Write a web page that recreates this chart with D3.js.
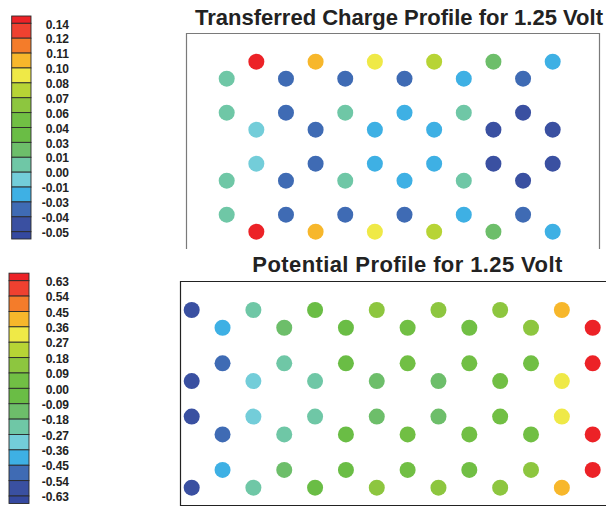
<!DOCTYPE html>
<html>
<head>
<meta charset="utf-8">
<script src="https://cdn.jsdelivr.net/npm/d3@7"></script>
<style>
  html, body { margin: 0; padding: 0; background: #fff; }
  text { font-family: "Liberation Sans", Arial, Helvetica, sans-serif; font-weight: bold; fill: #222; }
</style>
</head>
<body>
<div id="chart"></div>
<script>
// colormap, highest bin first
const binColors = ['#ec2227', '#ef4130', '#f47c2a', '#f7b72b', '#efe947', '#b7d435', '#8dc63f', '#71bf44',
                   '#6abd45', '#6dbe6a', '#6fc7a6', '#73cdd9', '#3eb0e4', '#3f6bb4', '#3a50a1', '#3549a0'];

// colorbar tick labels (top to bottom)
const chargeTicks = [0.14, 0.12, 0.11, 0.10, 0.08, 0.07, 0.06, 0.04, 0.03, 0.01, 0.00, -0.01, -0.03, -0.04, -0.05];
const potentialTicks = [0.63, 0.54, 0.45, 0.36, 0.27, 0.18, 0.09, 0.00, -0.09, -0.18, -0.27, -0.36, -0.45, -0.54, -0.63];

// lattice rows: y position (bond lengths) and first column of each row
const chargeRowY = [0, 0.5, 1.5, 2, 3, 3.5, 4.5, 5];
const chargeRowStart = [1, 0, 0, 1, 1, 0, 0, 1];
const chargeValues = [
  [0.145, 0.105, 0.092, 0.075, 0.021, -0.019],
  [0.005, -0.035, -0.034, -0.036, -0.018, -0.035],
  [0.004, -0.036, 0.006, -0.021, 0.004, -0.046],
  [-0.004, -0.035, -0.019, -0.020, -0.045, -0.047],
  [-0.004, -0.035, -0.019, -0.020, -0.045, -0.047],
  [0.004, -0.036, 0.006, -0.021, 0.004, -0.046],
  [0.005, -0.035, -0.034, -0.036, -0.018, -0.035],
  [0.145, 0.105, 0.092, 0.075, 0.021, -0.019]
];

const potentialRowY = [0, 0.5, 1.5, 2, 3, 3.5, 4.5, 5];
const potentialRowStart = [0, 1, 1, 0, 0, 1, 1, 0];
const potentialValues = [
  [-0.60, -0.22, -0.03, 0.13, 0.14, 0.13, 0.40],
  [-0.40, -0.13, -0.04, 0.03, 0.04, 0.12, 0.65],
  [-0.50, -0.22, -0.05, 0.02, 0.05, 0.07, 0.65],
  [-0.60, -0.31, -0.21, -0.12, -0.11, 0.05, 0.30],
  [-0.60, -0.31, -0.21, -0.12, -0.11, 0.05, 0.30],
  [-0.50, -0.22, -0.05, 0.02, 0.05, 0.07, 0.65],
  [-0.40, -0.13, -0.04, 0.03, 0.04, 0.12, 0.65],
  [-0.60, -0.22, -0.03, 0.13, 0.14, 0.13, 0.40]
];

const W = 606, H = 507;
const svg = d3.select('#chart').append('svg').attr('width', W).attr('height', H);

function atoms(rowY, rowStart, values) {
  const out = [];
  values.forEach((row, r) => row.forEach((v, i) => out.push({ col: rowStart[r] + 2 * i, y: rowY[r], v })));
  return out;
}

function colorbar(ticks, x0, x1, yFirst, yLast) {
  const y = d3.scaleLinear().domain([0, ticks.length - 1]).range([yFirst, yLast]);
  const g = svg.append('g');
  const n = ticks.length;
  g.selectAll('rect.bin')
    .data(binColors)
    .join('rect')
    .attr('class', 'bin')
    .attr('x', x0)
    .attr('width', x1 - x0)
    .attr('y', (d, j) => y(Math.max(-0.49, j - 1)))
    .attr('height', (d, j) => y(Math.min(n - 0.51, j)) - y(Math.max(-0.49, j - 1)))
    .attr('fill', d => d)
    .attr('stroke', '#2a2a2a')
    .attr('stroke-width', 0.9);
  g.selectAll('text')
    .data(ticks)
    .join('text')
    .attr('x', 69)
    .attr('y', (d, i) => y(i) + 1)
    .attr('dy', '0.35em')
    .attr('text-anchor', 'end')
    .attr('font-size', '12px')
    .text(d => d.toFixed(2));
}

function colorScale(ticks) {
  const asc = ticks.slice().reverse();
  return d3.scaleThreshold().domain(asc).range(binColors.slice().reverse());
}

// ---- Transferred charge (top)
colorbar(chargeTicks, 11.7, 31, 23.3, 231.7);

svg.append('path')
  .attr('d', 'M186.5,249V33.5H599.5V249')
  .attr('fill', 'none')
  .attr('stroke', '#7a7a7a')
  .attr('stroke-width', 1.2);

svg.append('text')
  .attr('x', 399).attr('y', 25)
  .attr('text-anchor', 'middle')
  .attr('font-size', '22px')
  .text('Transferred Charge Profile for 1.25 Volt');

const cx1 = d3.scaleLinear().domain([0, 11]).range([226.7, 552.7]);
const cy1 = d3.scaleLinear().domain([0, 5]).range([61.7, 231.7]);
const cColor = colorScale(chargeTicks);
svg.append('g').selectAll('circle')
  .data(atoms(chargeRowY, chargeRowStart, chargeValues))
  .join('circle')
  .attr('cx', d => cx1(d.col))
  .attr('cy', d => cy1(d.y))
  .attr('r', 8)
  .attr('fill', d => cColor(d.v));

// ---- Potential (bottom)
colorbar(potentialTicks, 9, 29, 280.7, 496);

svg.append('path')
  .attr('d', 'M620,281.5H180.5V505.5H620')
  .attr('fill', 'none')
  .attr('stroke', '#222')
  .attr('stroke-width', 1.2);

svg.append('text')
  .attr('x', 407.5).attr('y', 271.7)
  .attr('text-anchor', 'middle')
  .attr('font-size', '22px')
  .attr('letter-spacing', '0.4px')
  .text('Potential Profile for 1.25 Volt');

const px = d3.scaleLinear().domain([0, 13]).range([191.7, 592.7]);
const py = d3.scaleLinear().domain([0, 5]).range([310, 487.7]);
const pColor = colorScale(potentialTicks);
svg.append('g').selectAll('circle')
  .data(atoms(potentialRowY, potentialRowStart, potentialValues))
  .join('circle')
  .attr('cx', d => px(d.col))
  .attr('cy', d => py(d.y))
  .attr('r', 8)
  .attr('fill', d => pColor(d.v));
</script>
</body>
</html>
